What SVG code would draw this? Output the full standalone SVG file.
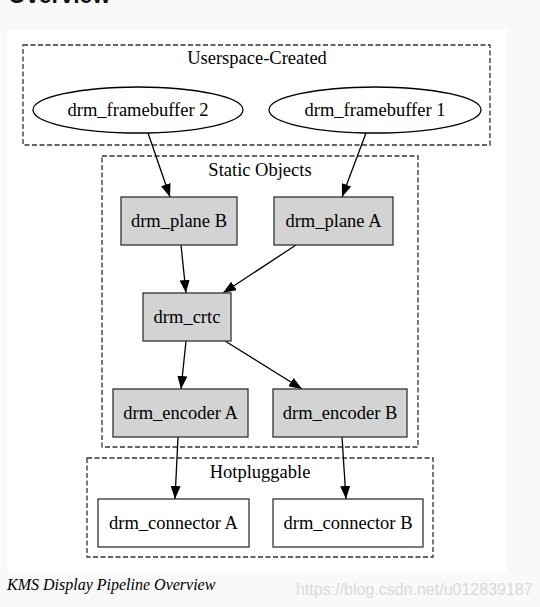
<svg xmlns="http://www.w3.org/2000/svg" width="540" height="607" viewBox="0 0 540 607">
<style>
.bg{fill:#f9f9f9}
.panel{fill:#ffffff}
.cluster{fill:none;stroke:#333;stroke-width:1.3;stroke-dasharray:5,2.5}
.node{fill:#d3d3d3;stroke:#333;stroke-width:1.3}
.wnode{fill:#ffffff;stroke:#333;stroke-width:1.3}
.ell{fill:#ffffff;stroke:#000;stroke-width:1.3}
.t{font-family:"Liberation Serif","Times New Roman",serif;font-size:18.5px;fill:#000;text-anchor:middle}
.edge{fill:none;stroke:#000;stroke-width:1.3}
.cap{font-family:"Liberation Serif","Times New Roman",serif;font-style:italic;font-size:16px;fill:#000}
.wm{font-family:"Liberation Sans",Arial,sans-serif;font-size:16px;fill:#dadada}
.h{font-family:"Liberation Sans",Arial,sans-serif;font-size:23px;font-weight:bold;fill:#111}
</style>
<defs>
<marker id="arr" markerWidth="13" markerHeight="10" refX="13" refY="5" orient="auto" markerUnits="userSpaceOnUse">
<path d="M0,0 L13,5 L0,10 z" fill="#000"/>
</marker>
</defs>
<rect class="bg" x="0" y="0" width="540" height="607"/>
<text class="h" x="8" y="3">Overview</text>
<rect class="panel" x="7" y="29" width="500" height="543"/>

<g id="cluster-userspace">
<rect class="cluster" x="23" y="45" width="467" height="100"/>
<text class="t" x="257" y="64">Userspace-Created</text>
</g>
<g id="cluster-static">
<rect class="cluster" x="102" y="156" width="316" height="291"/>
<text class="t" x="260" y="176">Static Objects</text>
</g>
<g id="cluster-hotplug">
<rect class="cluster" x="87" y="458" width="346" height="99"/>
<text class="t" x="260" y="478">Hotpluggable</text>
</g>

<g id="edges">
<path class="edge" marker-end="url(#arr)" d="M148,133 L170,197"/>
<path class="edge" marker-end="url(#arr)" d="M366,133 L342,197"/>
<path class="edge" marker-end="url(#arr)" d="M181,245 L186,293"/>
<path class="edge" marker-end="url(#arr)" d="M296,245 L223,293"/>
<path class="edge" marker-end="url(#arr)" d="M186,341 L181,389"/>
<path class="edge" marker-end="url(#arr)" d="M225,341 L302,389"/>
<path class="edge" marker-end="url(#arr)" d="M178,437 L175,499"/>
<path class="edge" marker-end="url(#arr)" d="M342,437 L346,499"/>
</g>

<g id="fb2">
<ellipse class="ell" cx="138" cy="110" rx="105" ry="23"/>
<text class="t" x="138" y="116">drm_framebuffer 2</text>
</g>
<g id="fb1">
<ellipse class="ell" cx="375" cy="110" rx="106" ry="23"/>
<text class="t" x="375" y="116">drm_framebuffer 1</text>
</g>
<g id="planeB">
<rect class="node" x="121" y="197" width="116" height="48"/>
<text class="t" x="179" y="227">drm_plane B</text>
</g>
<g id="planeA">
<rect class="node" x="274" y="197" width="119" height="48"/>
<text class="t" x="333.5" y="227">drm_plane A</text>
</g>
<g id="crtc">
<rect class="node" x="143" y="293" width="88" height="48"/>
<text class="t" x="187" y="323">drm_crtc</text>
</g>
<g id="encA">
<rect class="node" x="113" y="389" width="135" height="48"/>
<text class="t" x="180.5" y="419">drm_encoder A</text>
</g>
<g id="encB">
<rect class="node" x="273" y="389" width="134" height="48"/>
<text class="t" x="340" y="419">drm_encoder B</text>
</g>
<g id="connA">
<rect class="wnode" x="98" y="499" width="151" height="48"/>
<text class="t" x="173.5" y="529">drm_connector A</text>
</g>
<g id="connB">
<rect class="wnode" x="273" y="499" width="150" height="48"/>
<text class="t" x="348" y="529">drm_connector B</text>
</g>

<text class="cap" x="7" y="590">KMS Display Pipeline Overview</text>
<text class="wm" x="296" y="595">https://blog.csdn.net/u012839187</text>
</svg>
